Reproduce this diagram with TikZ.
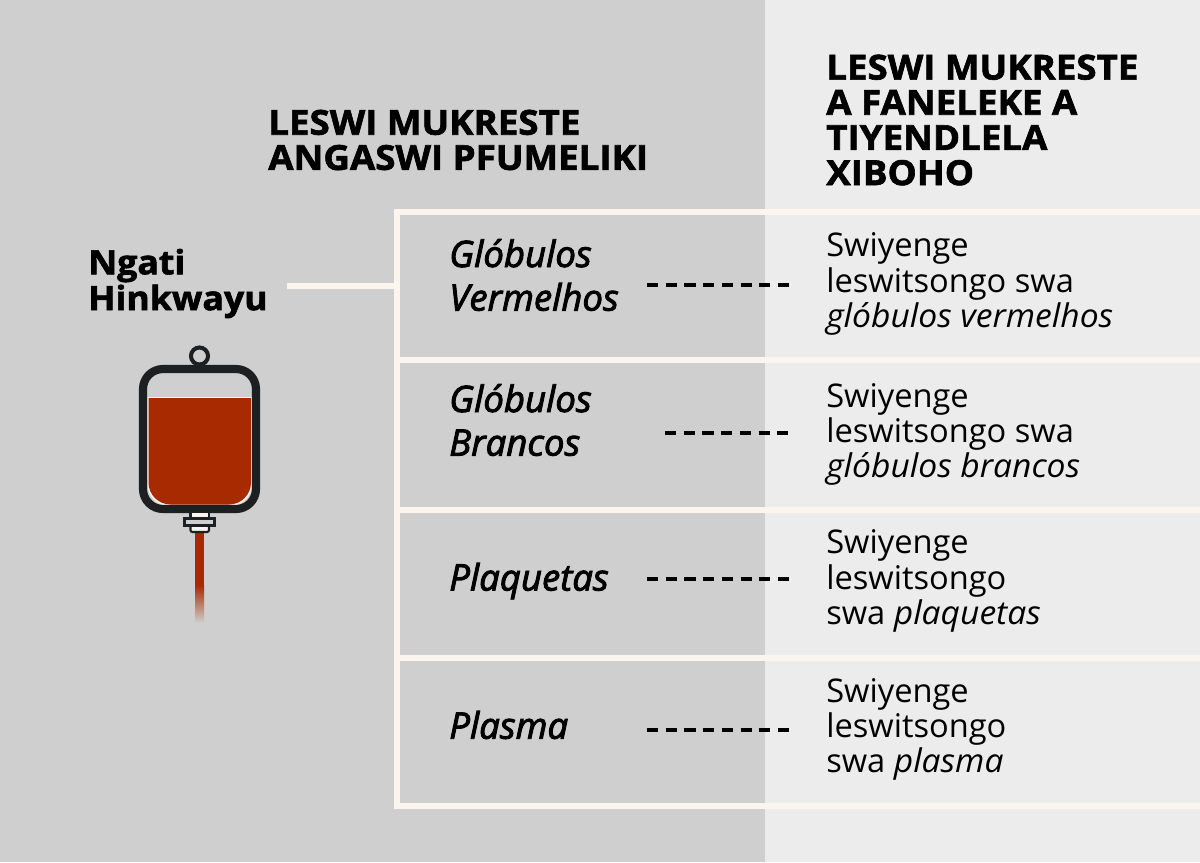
\documentclass[tikz,border=0pt]{standalone}
\usepackage{fontspec}
\setmainfont{Open Sans}[ItalicFeatures={FakeStretch=1.03}]
\newfontfamily\headfont{Open Sans}[UprightFont=* Bold, UprightFeatures={FakeBold=1.8, FakeStretch=1.065}]
\newfontfamily\partfont{Open Sans}[ItalicFont=* Italic, ItalicFeatures={FakeBold=2.5}]
\usetikzlibrary{positioning}
\definecolor{bgleft}{HTML}{CFCFCF}
\definecolor{bgright}{HTML}{ECECEC}
\definecolor{framecol}{HTML}{FBF5EE}
\definecolor{bloodcol}{HTML}{A82A00}
\definecolor{bagcol}{HTML}{1E1F20}
\tikzset{
  framebar/.style = {draw = framecol, line width = 4pt},
  headtxt/.style = {anchor = west, align = left, inner sep = 0, font = \headfont\fontsize{24.5}{25}\selectfont},
  sumtxt/.style = {anchor = west, align = left, inner sep = 0, font = \headfont\fontsize{23.8}{25.5}\selectfont},
  parttxt/.style = {anchor = west, align = left, inner sep = 0, font = \partfont\fontsize{26}{31}\selectfont\itshape},
  fractxt/.style = {anchor = west, align = left, inner sep = 0, font = \fontsize{23.2}{25}\selectfont},
  dashbar/.style = {black, line width = 2.8pt, dash pattern = on 8pt off 5.3pt},
}
\begin{document}
\begin{tikzpicture}[x = 0.025cm, y = -0.025cm]
    \useasboundingbox (0, 0) rectangle (1200, 862);
    \fill [bgleft] (0, 0) rectangle (765, 862);
    \fill [bgright] (765, 0) rectangle (1200, 862);

    % frame
    \draw [framebar] (1200, 212) -- (397, 212) -- (397, 806) -- (1200, 806);
    \draw [framebar] (397, 360) -- (1200, 360);
    \draw [framebar] (397, 510) -- (1200, 510);
    \draw [framebar] (397, 658) -- (1200, 658);

    % headings
    \node [headtxt] (headleft) at (268, 140) {LESWI MUKRESTE\\ANGASWI PFUMELIKI};
    \node [headtxt] (headright) at (826, 120) {LESWI MUKRESTE\\A FANELEKE A\\TIYENDLELA\\XIBOHO};

    % whole blood
    \node [sumtxt] (whole) at (88, 283.5) {Ngati\\Hinkwayu};
    \coordinate (framejoin) at (397, 286);
    \coordinate (wholeend) at (287, 286);
    \draw [framebar] (wholeend) -- (framejoin);

    % bag
    \begin{scope}
      \draw [bagcol, line width = 2.9pt] (199.5, 356) circle [radius = 8.5];
      \fill [bgleft] (199.5, 356) circle [radius = 6];

      \fill [bloodcol] (195, 532) rectangle (204, 586);
      \shade [top color = bloodcol, bottom color = bgleft] (195, 585) rectangle (204, 623);

      \fill [framecol] (147.5, 397) -- (252, 397) [rounded corners = 0.55cm] -- (252, 506) -- (147.5, 506) [sharp corners] -- cycle;
      \fill [bloodcol] (148.5, 398) -- (251, 398) [rounded corners = 0.55cm] -- (251, 504.5) -- (148.5, 504.5) [sharp corners] -- cycle;
      \draw [bagcol, line width = 5.8pt, rounded corners = 0.5cm] (143, 369) rectangle (256, 509);

      \filldraw [draw = bagcol, fill = framecol, line width = 1.5pt] (190.5, 512) rectangle (209, 519);
      \filldraw [draw = bagcol, fill = framecol, line width = 1.5pt, rounded corners = 0.05cm] (190.5, 525) rectangle (209, 532);
      \filldraw [draw = bagcol, fill = bgleft, line width = 1.5pt] (184.5, 518.5) rectangle (214.5, 525.5);
    \end{scope}

    % rows, left column
    \node [parttxt] (redpart) at (449, 275) {Glóbulos\\Vermelhos};
    \node [parttxt] (whitepart) at (449, 420) {Glóbulos\\Brancos};
    \node [parttxt] (plateletpart) at (449, 581) {Plaquetas};
    \node [parttxt] (plasmapart) at (449, 725) {Plasma};

    % rows, right column
    \node [fractxt] (redfrac) at (826, 284) {Swiyenge\\leswitsongo swa\\\textit{glóbulos vermelhos}};
    \node [fractxt] (whitefrac) at (826, 434.5) {Swiyenge\\leswitsongo swa\\\textit{glóbulos brancos}};
    \node [fractxt] (plateletfrac) at (826, 581) {Swiyenge\\leswitsongo\\swa \textit{plaquetas}};
    \node [fractxt] (plasmafrac) at (826, 729.5) {Swiyenge\\leswitsongo\\swa \textit{plasma}};

    % dashes
    \coordinate (reddash) at (647, 285);
    \coordinate (redstop) at (789, 285);
    \coordinate (whitedash) at (665, 433);
    \coordinate (whitestop) at (789, 433);
    \coordinate (plateletdash) at (647, 579);
    \coordinate (plateletstop) at (789, 579);
    \coordinate (plasmadash) at (647, 730);
    \coordinate (plasmastop) at (789, 730);
    \draw [dashbar] (reddash) -- (redstop);
    \draw [dashbar] (whitedash) -- (whitestop);
    \draw [dashbar] (plateletdash) -- (plateletstop);
    \draw [dashbar] (plasmadash) -- (plasmastop);
\end{tikzpicture}
\end{document}
